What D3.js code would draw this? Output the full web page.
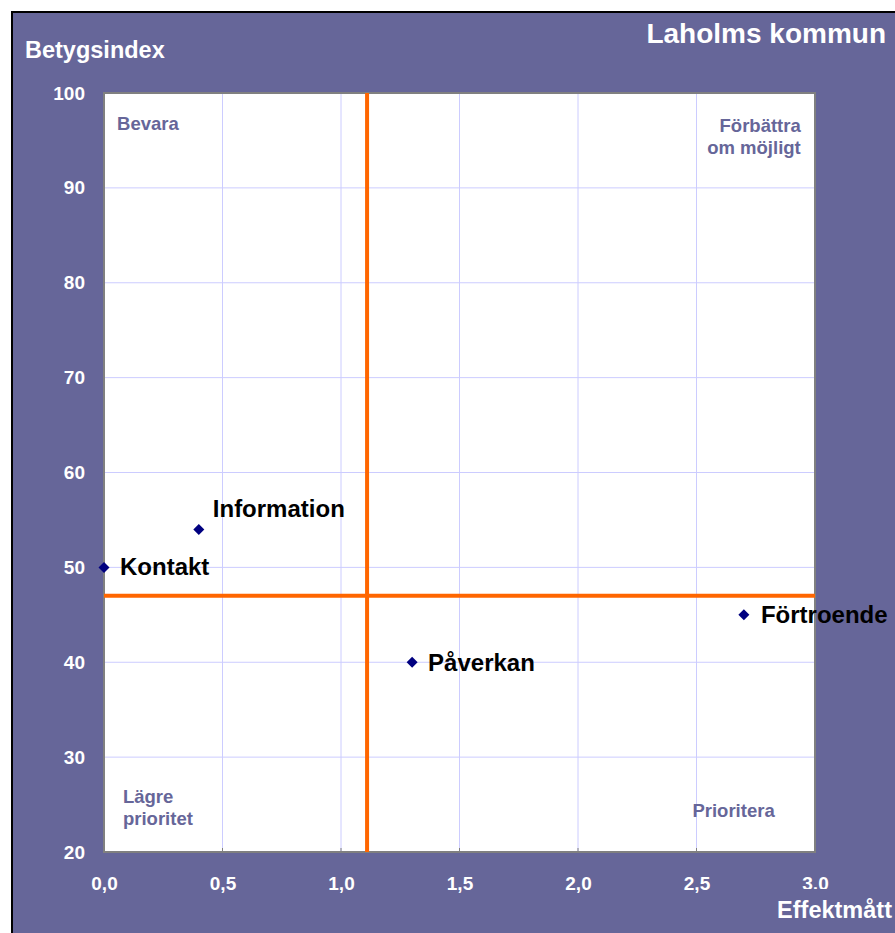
<!DOCTYPE html>
<html>
<head>
<meta charset="utf-8">
<script src="https://cdn.jsdelivr.net/npm/d3@7"></script>
<style>
html,body{margin:0;padding:0;background:#fff;}
svg{display:block;}
text{font-family:"Liberation Sans",Arial,sans-serif;font-weight:bold;}
</style>
</head>
<body>
<svg id="chart" width="895" height="933"></svg>
<script>
const names = ["Kontakt", "Information", "Påverkan", "Förtroende"];
const effekt = [0.0, 0.4, 1.3, 2.7];
const betyg = [50, 54, 40, 45];
const xTicks = [0, 0.5, 1.0, 1.5, 2.0, 2.5, 3.0];
const yTicks = [20, 30, 40, 50, 60, 70, 80, 90, 100];
const xDivider = 1.11;
const yDivider = 47;
const quadrants = [
  {lines: ["Bevara"], x: 0.055, y: 96.1, anchor: "start"},
  {lines: ["Förbättra", "om möjligt"], x: 2.94, y: 95.9, anchor: "end"},
  {lines: ["Lägre", "prioritet"], x: 0.08, y: 25.2, anchor: "start"},
  {lines: ["Prioritera"], x: 2.83, y: 23.7, anchor: "end"}
];

const svg = d3.select("#chart");
const purple = "#666699";

// outer frame
svg.append("rect").attr("x", 12).attr("y", 12).attr("width", 900).attr("height", 940)
  .attr("fill", purple).attr("stroke", "#000").attr("stroke-width", 2);

const L = 104, R = 815, T = 93, B = 852;
const x = d3.scaleLinear().domain([0, 3]).range([L, R]);
const y = d3.scaleLinear().domain([20, 100]).range([B, T]);

svg.append("rect").attr("x", L).attr("y", T).attr("width", R - L).attr("height", B - T)
  .attr("fill", "#fff");

// gridlines
const g = svg.append("g");
g.selectAll("line.vx").data(xTicks.slice(1, -1)).join("line")
  .attr("x1", d => x(d)).attr("x2", d => x(d)).attr("y1", T).attr("y2", B)
  .attr("stroke", "#ccccff").attr("stroke-width", 1);
g.selectAll("line.hy").data(yTicks.slice(1, -1)).join("line")
  .attr("y1", d => y(d)).attr("y2", d => y(d)).attr("x1", L).attr("x2", R)
  .attr("stroke", "#ccccff").attr("stroke-width", 1);

// plot border
svg.append("rect").attr("x", L).attr("y", T).attr("width", R - L).attr("height", B - T)
  .attr("fill", "none").attr("stroke", "#808080").attr("stroke-width", 2);

// axes (ticks hidden, labels used)
const xAxis = d3.axisBottom(x).tickValues(xTicks).tickSize(0).tickPadding(25)
  .tickFormat(d => d3.format(".1f")(d).replace(".", ","));
const gx = svg.append("g").attr("transform", `translate(0,${B})`).call(xAxis);
gx.select(".domain").remove();
gx.selectAll("text").attr("fill", "#fff").attr("font-size", 19)
  .attr("font-family", "Liberation Sans, Arial, sans-serif").attr("font-weight", "bold");

const yAxis = d3.axisLeft(y).tickValues(yTicks).tickSize(0).tickPadding(19)
  .tickFormat(d3.format("d"));
const gy = svg.append("g").attr("transform", `translate(${L},0)`).call(yAxis);
gy.select(".domain").remove();
gy.selectAll("text").attr("fill", "#fff").attr("font-size", 19)
  .attr("font-family", "Liberation Sans, Arial, sans-serif").attr("font-weight", "bold");

// tick marks on x at bottom
svg.append("g").selectAll("line").data(xTicks.slice(1, -1)).join("line")
  .attr("x1", d => x(d)).attr("x2", d => x(d)).attr("y1", B - 4).attr("y2", B)
  .attr("stroke", "#808080").attr("stroke-width", 1);

// quadrant labels
quadrants.forEach(q => {
  const t = svg.append("text").attr("x", x(q.x)).attr("y", y(q.y))
    .attr("text-anchor", q.anchor).attr("fill", purple).attr("font-size", 18.5);
  q.lines.forEach((ln, i) => {
    t.append("tspan").attr("x", x(q.x)).attr("dy", i === 0 ? 0 : 22).text(ln);
  });
});

// dividers
svg.append("line").attr("x1", x(xDivider)).attr("x2", x(xDivider)).attr("y1", T).attr("y2", B)
  .attr("stroke", "#ff6600").attr("stroke-width", 4);
svg.append("line").attr("x1", L).attr("x2", R).attr("y1", y(yDivider)).attr("y2", y(yDivider))
  .attr("stroke", "#ff6600").attr("stroke-width", 4);

// points
const pts = names.map((n, i) => ({n, ex: effekt[i], by: betyg[i]}));
svg.append("g").selectAll("path").data(pts).join("path")
  .attr("d", "M0,-5.5L5.5,0L0,5.5L-5.5,0Z")
  .attr("transform", d => `translate(${x(d.ex)},${y(d.by)})`)
  .attr("fill", "#000080");

const labelOff = {"Kontakt": [16, 8], "Information": [14, -12], "Påverkan": [16, 9], "Förtroende": [17, 8]};
svg.append("g").selectAll("text").data(pts).join("text")
  .attr("x", d => x(d.ex) + labelOff[d.n][0])
  .attr("y", d => y(d.by) + labelOff[d.n][1])
  .attr("fill", "#000").attr("font-size", 24)
  .text(d => d.n);

// titles
svg.append("text").attr("x", 886).attr("y", 43).attr("text-anchor", "end")
  .attr("fill", "#fff").attr("font-size", 28).text("Laholms kommun");
svg.append("text").attr("x", 25).attr("y", 58)
  .attr("fill", "#fff").attr("font-size", 23.5).text("Betygsindex");
svg.append("rect").attr("x", 770).attr("y", 889).attr("width", 125).attr("height", 44).attr("fill", purple);
svg.append("text").attr("x", 892).attr("y", 918).attr("text-anchor", "end")
  .attr("fill", "#fff").attr("font-size", 23.5).text("Effektmått");
</script>
</body>
</html>
